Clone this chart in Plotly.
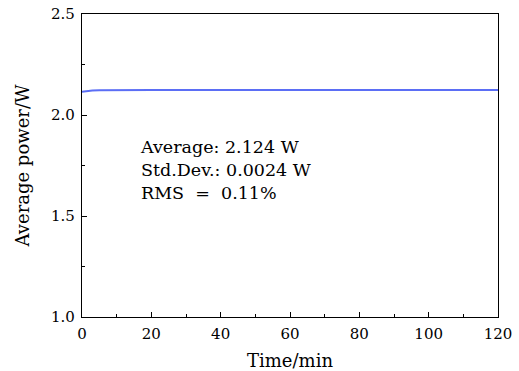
import plotly.graph_objects as go

time_min = [0, 0.5, 1, 2, 3, 5, 8, 12, 20, 30, 40, 50, 60, 70, 80, 90, 100, 110, 120]
power_w = [2.115, 2.116, 2.118, 2.120, 2.121, 2.122, 2.123, 2.123, 2.124, 2.124, 2.124, 2.124, 2.124, 2.124, 2.124, 2.124, 2.124, 2.124, 2.124]

stats_lines = ["Average: 2.124 W", "Std.Dev.: 0.0024 W", "RMS  =  0.11%"]

FONT = "DejaVu Serif"

fig = go.Figure()
fig.add_trace(go.Scatter(x=time_min, y=power_w, mode="lines",
                         line=dict(color="#5b6ef5", width=2), showlegend=False))

fig.add_annotation(x=16.2, y=1.903, xref="x", yref="y", xanchor="left", yanchor="top",
                   text="<br>".join(stats_lines), showarrow=False, align="left",
                   font=dict(family=FONT, size=17.5, color="black"))

axis_common = dict(showline=True, linecolor="black", linewidth=1.2, mirror=True,
                   ticks="inside", tickcolor="black", ticklen=5, tickwidth=1,
                   showgrid=False, zeroline=False, automargin=False,
                   ticklabeloverflow="allow", ticklabelstandoff=3,
                   tickfont=dict(family=FONT, size=15, color="black"))

fig.update_xaxes(range=[0, 120], tickvals=[0, 20, 40, 60, 80, 100, 120],
                 minor=dict(ticks="inside", tickvals=[10, 30, 50, 70, 90, 110], ticklen=3, tickcolor="black"),
                 title=dict(text="Time/min", font=dict(family=FONT, size=18, color="black"), standoff=12),
                 **axis_common)
fig.update_yaxes(range=[1.0, 2.5], tickvals=[1.0, 1.5, 2.0, 2.5], ticktext=["1.0", "1.5", "2.0", "2.5"],
                 minor=dict(ticks="inside", tickvals=[1.25, 1.75, 2.25], ticklen=3, tickcolor="black"),
                 title=dict(text="Average power/W", font=dict(family=FONT, size=18, color="black"), standoff=16),
                 **axis_common)

fig.update_layout(width=519, height=371, margin=dict(l=82, r=21, t=14, b=54),
                  plot_bgcolor="white", paper_bgcolor="white")

fig.write_html("out.html", config={"displayModeBar": False},
               post_script="document.body.style.margin='0';")
